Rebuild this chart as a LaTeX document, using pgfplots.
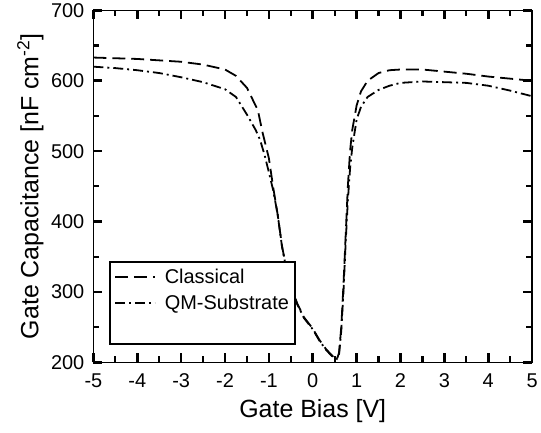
\documentclass[border=0pt]{standalone}
\usepackage{pgfplots}
\pgfplotsset{compat=1.18}
\usepackage{fontspec}
\setmainfont{Liberation Sans}

\begin{document}
\begin{tikzpicture}
\begin{axis}[
    scale only axis,
    width=440pt, height=353pt,
    xmin=-5, xmax=5, ymin=200, ymax=700,
    xtick={-5,-4,...,5},
    xticklabels={-5,-4,-3,-2,-1,0,1,2,3,4,5},
    ytick={200,300,...,700},
    yticklabels={200,300,400,500,600,700},
    minor x tick num=1, minor y tick num=1,
    tick align=inside,
    major tick length=9pt,
    minor tick length=6pt,
    major tick style={black, line width=2.6pt},
    minor tick style={black, line width=2.2pt},
    every axis/.append style={line width=1.5pt},
    ticklabel style={font=\fontsize{20}{22}\selectfont},
    xticklabel style={yshift=-7pt},
    yticklabel style={xshift=-5pt},
    label style={font=\fontsize{25}{27}\selectfont},
    xlabel={Gate Bias [V]},
    ylabel={Gate Capacitance [nF cm\textsuperscript{-2}]},
    xlabel style={yshift=-5pt},
    ylabel style={yshift=0pt},
    legend cell align=left,
    legend style={at={(0.036,0.048)}, anchor=south west,
      font=\fontsize{20}{22}\selectfont, draw=black, line width=2pt,
      row sep=6pt, inner xsep=4pt, inner ysep=5pt},
    legend image code/.code={\draw[#1] (0pt,0pt) -- (40pt,0pt); \path (47pt,0pt);},
]
% Classical
\addplot[black, line width=1.8pt, dash pattern=on 13pt off 6pt] coordinates {
(-5,633) (-4.5,632) (-4,631) (-3.5,629) (-3,627) (-2.5,623) (-2,616)
(-1.75,607) (-1.5,590) (-1.25,558) (-1.15,528) (-1.0,490) (-0.9,448)
(-0.8,410) (-0.7,365) (-0.6,333) (-0.5,308) (-0.35,283) (-0.2,264)
(0,248) (0.15,232) (0.3,219) (0.45,209) (0.55,204) (0.6,214) (0.65,250)
(0.7,310) (0.75,380) (0.8,450) (0.85,500) (0.9,530) (1.0,565) (1.1,585)
(1.25,600) (1.5,611) (1.75,615) (2,616) (2.5,616) (3,613) (3.5,610)
(4,606) (4.5,603) (5,600)
};
\addlegendentry{Classical}
% QM-Substrate
\addplot[black, line width=1.8pt, dash pattern=on 10pt off 4pt on 2pt off 4pt] coordinates {
(-5,620) (-4.5,618) (-4,615) (-3.5,611) (-3,605) (-2.5,598) (-2,588)
(-1.75,577) (-1.5,552) (-1.3,530) (-1.2,516) (-1.1,495) (-1.0,470)
(-0.9,444) (-0.8,410) (-0.7,364) (-0.6,332) (-0.5,307) (-0.35,282)
(-0.2,263) (0,247) (0.15,231) (0.3,218) (0.45,208) (0.55,205) (0.6,212)
(0.65,245) (0.7,300) (0.75,370) (0.8,430) (0.85,475) (0.9,505) (1.0,545)
(1.1,563) (1.25,577) (1.5,587) (1.75,593) (2,597) (2.5,599) (3,598)
(3.5,597) (4,593) (4.5,586) (5,578)
};
\addlegendentry{QM-Substrate}
\addlegendimage{empty legend}
\addlegendentry{\strut}
\end{axis}
\path (current bounding box.south west) ++(-14pt,-6pt);
\end{tikzpicture}
\end{document}
